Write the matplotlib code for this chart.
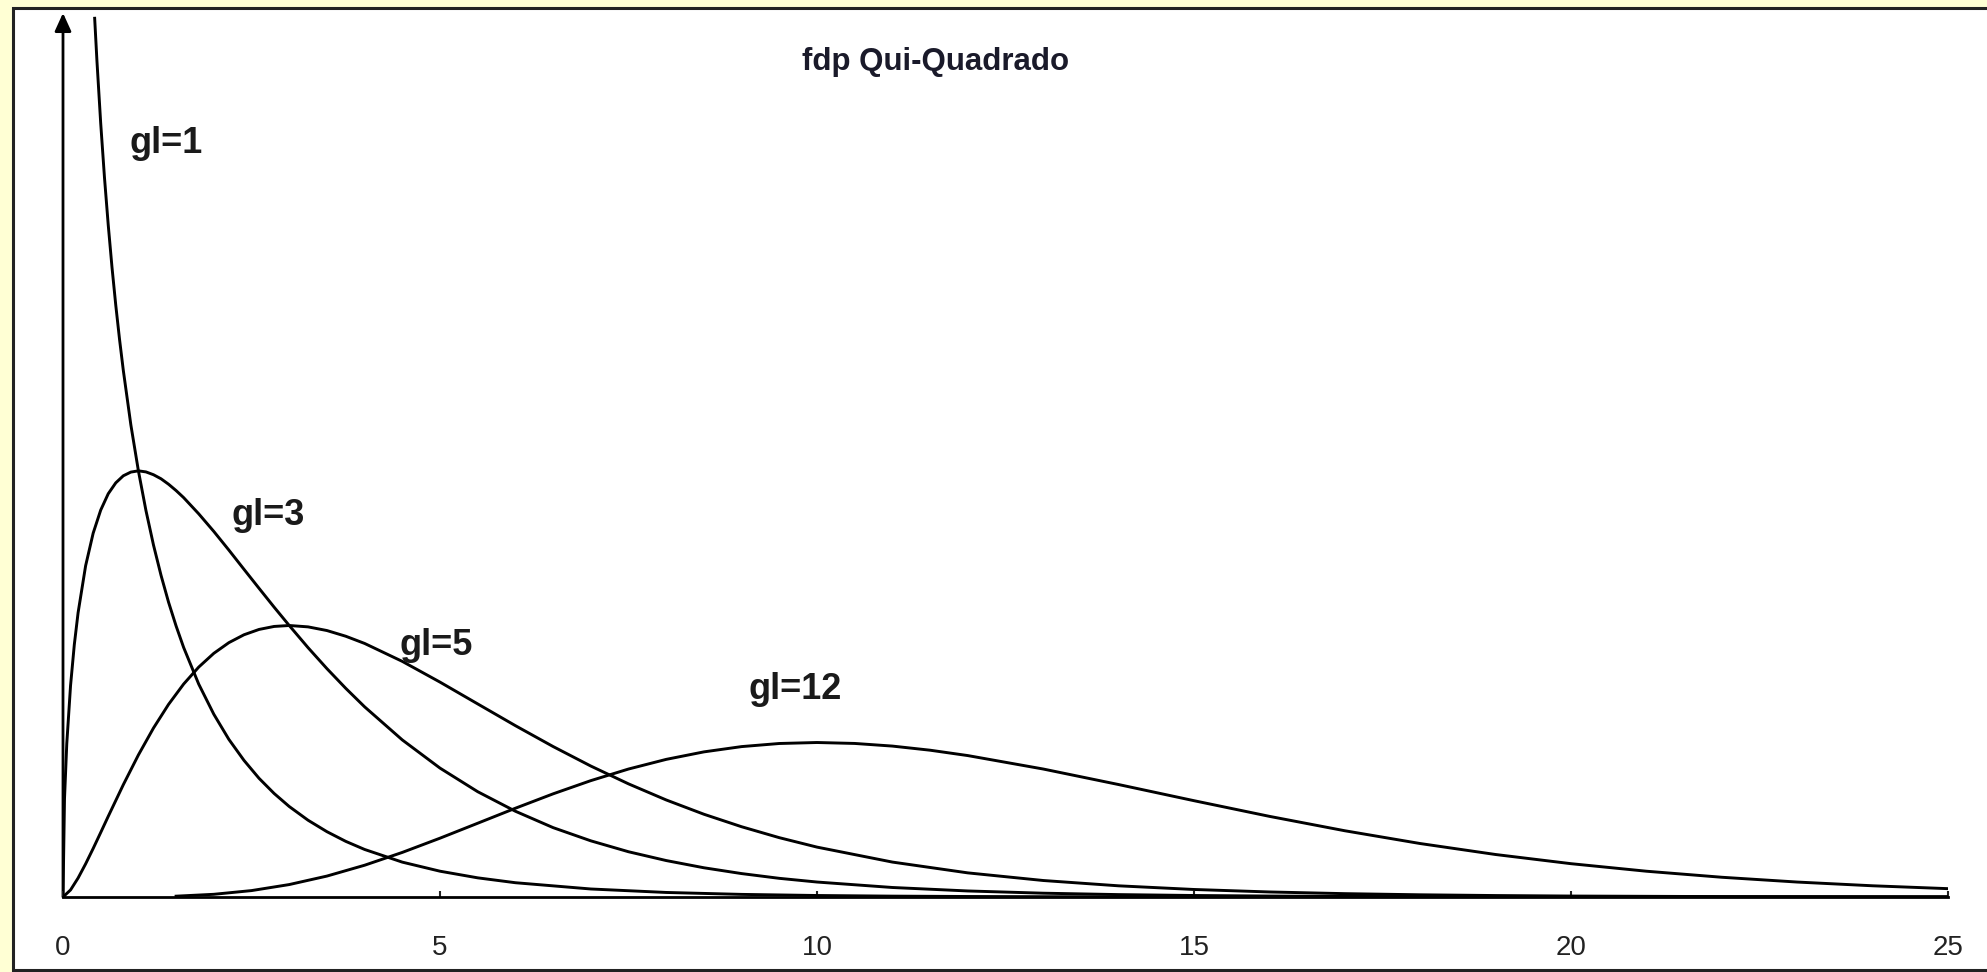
import matplotlib
matplotlib.use("Agg")
import matplotlib.pyplot as plt
from matplotlib.patches import Rectangle, FancyArrowPatch

# ---- data ----
x_gl1 = [0.42, 0.45, 0.5, 0.55, 0.6, 0.65, 0.7, 0.75, 0.8, 0.9, 1.0, 1.1, 1.2, 1.3, 1.4,
         1.5, 1.6, 1.8, 2.0, 2.2, 2.4, 2.6, 2.8, 3.0, 3.25, 3.5, 3.75, 4.0, 4.5, 5.0, 5.5,
         6.0, 7.0, 8.0, 9.0, 10.0, 11.0, 12.0, 13.0, 14.0, 15.0, 17.0, 20.0, 25.0]
y_gl1 = [0.4990, 0.4749, 0.4394, 0.4086, 0.3816, 0.3575, 0.3360, 0.3166, 0.2990, 0.2681,
         0.2420, 0.2195, 0.1999, 0.1827, 0.1674, 0.1539, 0.1417, 0.1209, 0.1038, 0.0895,
         0.0776, 0.0674, 0.0588, 0.0514, 0.0436, 0.0371, 0.0316, 0.0270, 0.0198, 0.01465,
         0.01088, 0.00811, 0.00455, 0.00258, 0.00148, 0.00085, 0.00049, 0.000285, 0.000166,
         0.000097, 0.000057, 0.00002, 0.000004, 0.0]

x_gl3 = [0.0, 0.02, 0.05, 0.1, 0.15, 0.2, 0.3, 0.4, 0.5, 0.6, 0.7, 0.8, 0.9, 1.0, 1.1,
         1.2, 1.3, 1.4, 1.5, 1.6, 1.8, 2.0, 2.2, 2.4, 2.6, 2.8, 3.0, 3.25, 3.5, 3.75, 4.0,
         4.5, 5.0, 5.5, 6.0, 6.5, 7.0, 7.5, 8.0, 8.5, 9.0, 9.5, 10.0, 11.0, 12.0, 13.0,
         14.0, 15.0, 16.0, 17.0, 18.0, 20.0, 22.0, 25.0]
y_gl3 = [0.0, 0.0559, 0.0870, 0.1200, 0.1433, 0.1614, 0.1881, 0.2066, 0.2197, 0.2290,
         0.2352, 0.2392, 0.2413, 0.2420, 0.2414, 0.2398, 0.2375, 0.2344, 0.2308, 0.2268,
         0.2176, 0.2076, 0.1970, 0.1861, 0.1753, 0.1646, 0.1542, 0.1416, 0.1297, 0.1185,
         0.1080, 0.0892, 0.0732, 0.0598, 0.0487, 0.0394, 0.0319, 0.0257, 0.0207, 0.0166,
         0.0133, 0.0106, 0.0085, 0.0054, 0.00343, 0.00216, 0.00136, 0.00085, 0.00054,
         0.00033, 0.00021, 0.00008, 0.00003, 0.00001]

x_gl5 = [0.0, 0.1, 0.2, 0.3, 0.4, 0.5, 0.6, 0.8, 1.0, 1.2, 1.4, 1.6, 1.8, 2.0, 2.2, 2.4,
         2.6, 2.8, 3.0, 3.25, 3.5, 3.75, 4.0, 4.5, 5.0, 5.5, 6.0, 6.5, 7.0, 7.5, 8.0, 8.5,
         9.0, 9.5, 10.0, 11.0, 12.0, 13.0, 14.0, 15.0, 16.0, 17.0, 18.0, 19.0, 20.0, 22.0,
         25.0]
y_gl5 = [0.0, 0.0040, 0.01076, 0.01881, 0.02754, 0.03662, 0.04580, 0.06378, 0.08066,
         0.09594, 0.10939, 0.12093, 0.13056, 0.13837, 0.14444, 0.14891, 0.15194, 0.15364,
         0.15418, 0.15340, 0.15132, 0.14808, 0.14399, 0.1338, 0.12203, 0.10965, 0.0973,
         0.08545, 0.07437, 0.06425, 0.05511, 0.04700, 0.03990, 0.03369, 0.02833, 0.01983,
         0.0137, 0.00937, 0.00635, 0.00427, 0.00286, 0.00190, 0.00125, 0.000824, 0.00054,
         0.00023, 0.000062]

x_gl12 = [1.5, 2.0, 2.5, 3.0, 3.5, 4.0, 4.5, 5.0, 5.5, 6.0, 6.5, 7.0, 7.5, 8.0, 8.5, 9.0,
          9.5, 10.0, 10.5, 11.0, 11.5, 12.0, 13.0, 14.0, 15.0, 16.0, 17.0, 18.0, 19.0,
          20.0, 21.0, 22.0, 23.0, 24.0, 25.0]
y_gl12 = [0.000467, 0.00153, 0.00364, 0.00706, 0.01188, 0.01804, 0.02532, 0.03340, 0.04189,
          0.05041, 0.05858, 0.06608, 0.07267, 0.07815, 0.08241, 0.08541, 0.08717, 0.08773,
          0.08720, 0.08570, 0.08336, 0.08031, 0.07268, 0.06386, 0.05469, 0.04580, 0.03762,
          0.03036, 0.02413, 0.01892, 0.01464, 0.01121, 0.00849, 0.00637, 0.00474]

labels = ["gl=1", "gl=3", "gl=5", "gl=12"]
label_x = [1.37, 2.72, 4.95, 9.71]
label_y = [0.428, 0.2165, 0.1426, 0.1176]
title_text = "fdp Qui-Quadrado"
xticks = [0, 5, 10, 15, 20, 25]

# ---- figure ----
W, H = 1987, 972
fig = plt.figure(figsize=(W / 100, H / 100), dpi=100)
fig.patch.set_facecolor("#FFFFD4")

# white framed panel
fig.patches.append(Rectangle((13 / W, (H - 970) / H), 1.2, (970 - 8) / H,
                             transform=fig.transFigure, facecolor="white",
                             edgecolor="#222222", linewidth=2.2, zorder=-5))

ax = fig.add_axes([63 / W, (H - 897) / H, (1948 - 63) / W, (897 - 13) / H])
ax.set_zorder(2)
ax.set_facecolor("none")
ax.set_xlim(0, 25)
ax.set_ylim(0, 0.502)

for xs, ys in [(x_gl1, y_gl1), (x_gl3, y_gl3), (x_gl5, y_gl5), (x_gl12, y_gl12)]:
    ax.plot(xs, ys, color="black", lw=2.1, solid_joinstyle="round")

for spine in ["top", "right", "left"]:
    ax.spines[spine].set_visible(False)
ax.spines["bottom"].set_linewidth(2.0)
ax.spines["bottom"].set_color("black")

# y axis with arrow
arrow = FancyArrowPatch((0, 0), (0, 0.502), transform=ax.transData,
                        arrowstyle="-|>,head_length=0.55,head_width=0.25",
                        mutation_scale=20, color="black", lw=2.0,
                        shrinkA=0, shrinkB=0, clip_on=False)
ax.add_patch(arrow)

ax.set_yticks([])
ax.set_xticks(xticks)
ax.set_xticklabels([str(t) for t in xticks], fontfamily="Liberation Sans", fontsize=20)
ax.tick_params(axis="x", direction="in", length=4, width=1.5, pad=27, colors="#222222")

for t, lx, ly in zip(labels, label_x, label_y):
    ax.text(lx, ly, t, fontfamily="Liberation Sans", fontweight="bold", fontsize=26,
            ha="center", va="center", color="#1a1a1a")

ax.text(11.57, 0.474, title_text, fontfamily="Liberation Sans", fontweight="bold",
        fontsize=22.5, ha="center", va="center", color="#1a1a2a")

fig.savefig("out.png", dpi=100, facecolor=fig.get_facecolor())
